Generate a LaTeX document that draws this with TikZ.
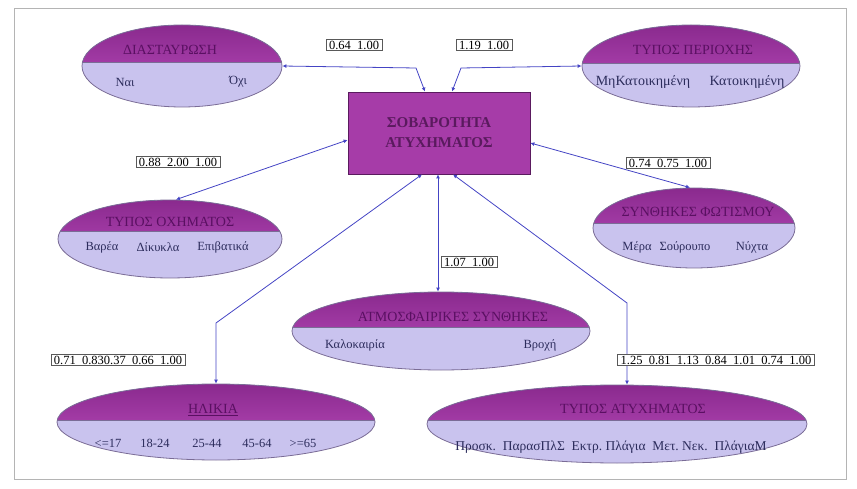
\documentclass[tikz,border=0pt]{standalone}
\usepackage{fontspec}
\setmainfont{Liberation Serif}
\usetikzlibrary{shapes.geometric,arrows.meta}

\definecolor{lav}{HTML}{C9C3EE}
\definecolor{magtop}{HTML}{8A2A8E}
\definecolor{magbot}{HTML}{BE4EC0}
\definecolor{ovalline}{HTML}{7A6C96}
\definecolor{boxfill}{HTML}{A63CA8}
\definecolor{boxline}{HTML}{5A1A5E}
\definecolor{linkblue}{HTML}{4444C4}
\definecolor{titlecol}{HTML}{5A1062}
\definecolor{valcol}{HTML}{2C2C5C}
\definecolor{framegray}{HTML}{B4B4B4}

\tikzset{
  oval/.style={ellipse, draw=ovalline, line width=0.8pt, fill=lav, inner sep=0pt,
    path picture={
      \shade[top color=magtop, bottom color=magbot]
        (path picture bounding box.north west) rectangle ([yshift=#1]path picture bounding box.east);
      \draw[ovalline, line width=0.9pt]
        ([yshift=#1]path picture bounding box.west) -- ([yshift=#1]path picture bounding box.east);
    }},
  ovaltitle/.style={text=titlecol, inner sep=0pt, font=\fontsize{14}{16}\selectfont},
  ovalval/.style={text=valcol, inner sep=0pt, font=\fontsize{12.5}{14}\selectfont},
  target/.style={rectangle, draw=boxline, line width=0.8pt, fill=boxfill,
    minimum width=182pt, minimum height=82pt, align=center, text=boxline,
    font=\bfseries\fontsize{15}{20}\selectfont},
  weight/.style={rectangle, draw=black!65, line width=0.6pt, fill=white,
    inner xsep=3pt, inner ysep=1.5pt, font=\fontsize{12.5}{14}\selectfont},
  link/.style={draw=linkblue, line width=0.8pt,
    {Latex[length=4pt,width=4pt]}-{Latex[length=4pt,width=4pt]}}
}

\begin{document}
\begin{tikzpicture}[x=1pt,y=-1pt]
\useasboundingbox (0,0) rectangle (857,489);
\draw[framegray, line width=1pt] (14,9) rectangle (846,479);

% central variable
\node[target] (sev) at (439,133) {ΣΟΒΑΡΟΤΗΤΑ\\ΑΤΥΧΗΜΑΤΟΣ};

% explanatory variables
\node[oval=4pt, minimum width=200pt, minimum height=82pt] (cross) at (182,66) {};
\node[ovaltitle] (crossT) at (170,50) {ΔΙΑΣΤΑΥΡΩΣΗ};
\node[ovalval] (crossA) at (125,82) {Ναι};
\node[ovalval] (crossB) at (238,82) {Όχι};

\node[oval=3pt, minimum width=218pt, minimum height=82pt] (area) at (691,66) {};
\node[ovaltitle] (areaT) at (693,50) {ΤΥΠΟΣ ΠΕΡΙΟΧΗΣ};
\node[ovalval, font=\fontsize{14}{16}\selectfont] (areaA) at (643,82) {ΜηΚατοικημένη};
\node[ovalval, font=\fontsize{14}{16}\selectfont] (areaB) at (747,82) {Κατοικημένη};

\node[oval=8pt, minimum width=224pt, minimum height=78pt] (veh) at (170,239) {};
\node[ovaltitle] (vehT) at (170,222) {ΤΥΠΟΣ ΟΧΗΜΑΤΟΣ};
\node[ovalval] (vehA) at (102,247) {Βαρέα};
\node[ovalval] (vehB) at (158,247) {Δίκυκλα};
\node[ovalval] (vehC) at (223,247) {Επιβατικά};

\node[oval=5pt, minimum width=202pt, minimum height=80pt] (light) at (694,228) {};
\node[ovaltitle] (lightT) at (698,212) {ΣΥΝΘΗΚΕΣ ΦΩΤΙΣΜΟΥ};
\node[ovalval] (lightA) at (637,247) {Μέρα};
\node[ovalval] (lightB) at (685,247) {Σούρουπο};
\node[ovalval] (lightC) at (752,247) {Νύχτα};

\node[oval=4pt, minimum width=298pt, minimum height=78pt] (weather) at (441,331) {};
\node[ovaltitle] (weatherT) at (453,317) {ΑΤΜΟΣΦΑΙΡΙΚΕΣ ΣΥΝΘΗΚΕΣ};
\node[ovalval] (weatherA) at (355,345) {Καλοκαιρία};
\node[ovalval] (weatherB) at (540,345) {Βροχή};

\node[oval=2pt, minimum width=318pt, minimum height=76pt] (age) at (216,422) {};
\node[ovaltitle] (ageT) at (213,410) {\underline{ΗΛΙΚΙΑ}};
\node[ovalval] (ageA) at (108,443) {<=17};
\node[ovalval] (ageB) at (155,443) {18-24};
\node[ovalval] (ageC) at (207,443) {25-44};
\node[ovalval] (ageD) at (257,443) {45-64};
\node[ovalval] (ageE) at (303,443) {>=65};

\node[oval=4pt, minimum width=380pt, minimum height=78pt] (acc) at (617,424) {};
\node[ovaltitle] (accT) at (633,409) {ΤΥΠΟΣ ΑΤΥΧΗΜΑΤΟΣ};
\node[ovalval, font=\fontsize{13.5}{15}\selectfont] (accA) at (611,447) {Προσκ.\ \ ΠαρασΠλΣ\ \ Εκτρ.\ Πλάγια\ \ Μετ.\ Νεκ.\ \ ΠλάγιαΜ};

% bends of the routed connectors
\coordinate (bendCross) at (416,68);
\coordinate (bendArea) at (461,68);
\coordinate (bendAge) at (216,323);
\coordinate (bendAcc) at (627,303);

% connectors
\draw[link] (cross.east) -- (bendCross) -- ([xshift=-14pt]sev.north);
\draw[link] (area.west) -- (bendArea) -- ([xshift=13pt]sev.north);
\draw[link] ([xshift=6pt]veh.north) -- ([yshift=-7pt]sev.west);
\draw[link] ([xshift=-4pt]light.north) -- ([yshift=-10pt]sev.east);
\draw[link] ([xshift=-3pt]weather.north) -- ([xshift=-1pt]sev.south);
\draw[link] (age.north) -- (bendAge) -- ([xshift=-17pt]sev.south);
\draw[link] ([xshift=10pt]acc.north) -- (bendAcc) -- ([xshift=14pt]sev.south);

% weights
\node[weight] (w1) at (354,45) {0.64\ \ 1.00};
\node[weight] (w2) at (484,45) {1.19\ \ 1.00};
\node[weight] (w3) at (178,162) {0.88\ \ 2.00\ \ 1.00};
\node[weight] (w4) at (668,163) {0.74\ \ 0.75\ \ 1.00};
\node[weight] (w5) at (469,262) {1.07\ \ 1.00};
\node[weight] (w6) at (118,360) {0.71\ \ 0.830.37\ \ 0.66\ \ 1.00};
\node[weight] (w7) at (716,360) {1.25\ \ 0.81\ \ 1.13\ \ 0.84\ \ 1.01\ \ 0.74\ \ 1.00};
\end{tikzpicture}
\end{document}
